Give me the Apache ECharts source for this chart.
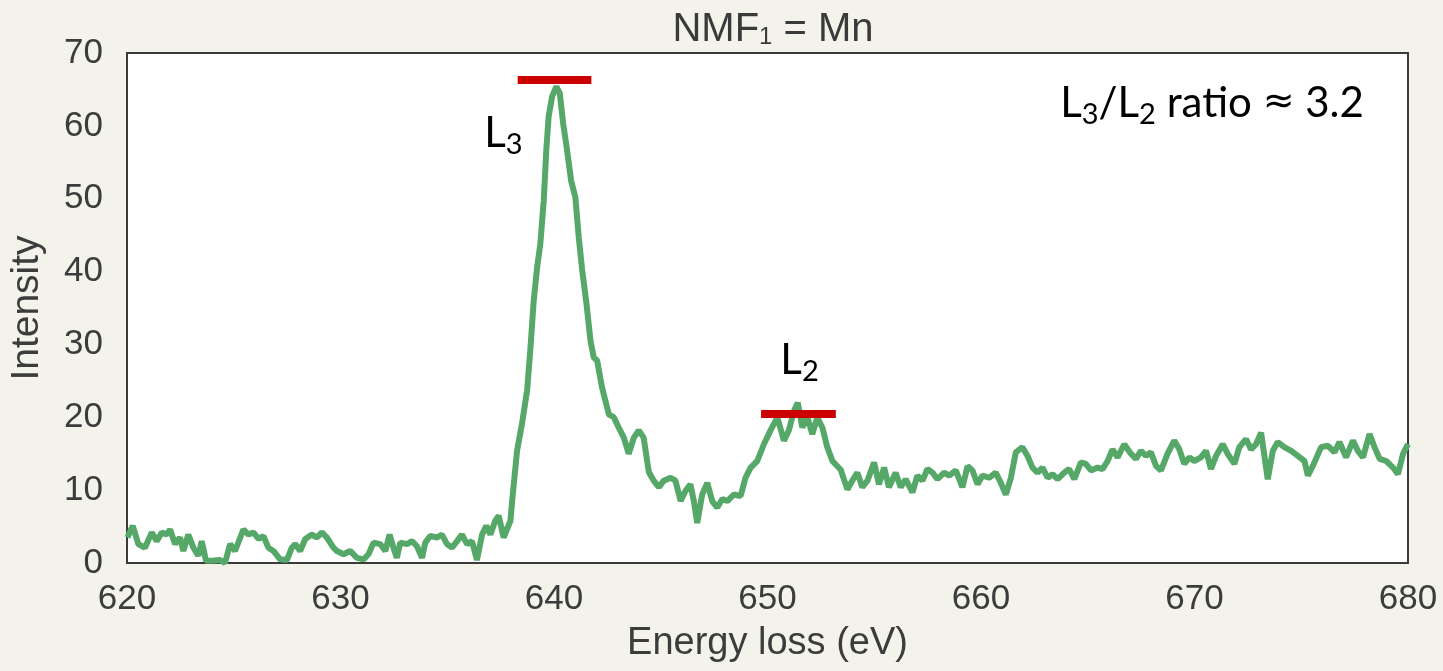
<!DOCTYPE html>
<html lang="en">

<head>
    <meta charset="UTF-8">
    <title>NMF1 = Mn</title>
    <script src="https://cdn.jsdelivr.net/npm/echarts@6.0.0/dist/echarts.min.js"></script>
    <style>
        body { margin: 0; background: #f4f3eb; }
    </style>
</head>

<body>
    <div id="main" style="height:671px; width:1443px"></div>
    <script>
        // energy loss (eV)
        var energy = [
            620.02, 620.27, 620.53, 620.84, 621.16, 621.39, 621.63, 621.86, 622.02, 622.25,
            622.48, 622.64, 622.87, 623.11, 623.34, 623.5, 623.7, 623.97, 624.36, 624.59,
            624.83, 625.06, 625.45, 625.69, 625.92, 626.16, 626.39, 626.62, 626.86, 627.17,
            627.49, 627.72, 627.88, 628.11, 628.35, 628.66, 628.89, 629.13, 629.36, 629.67,
            629.83, 630.14, 630.45, 630.77, 631.08, 631.31, 631.55, 631.86, 632.1, 632.3,
            632.48, 632.64, 632.8, 633.11, 633.35, 633.58, 633.82, 633.97, 634.2, 634.52,
            634.75, 634.99, 635.22, 635.46, 635.69, 635.93, 636.16, 636.39, 636.63, 636.83,
            637.02, 637.25, 637.41, 637.64, 637.96,
            638.04, 638.27, 638.5, 638.74, 638.89, 639.05, 639.21, 639.36, 639.52, 639.64,
            639.75, 639.91, 640.11, 640.27, 640.43, 640.61, 640.8, 641.0, 641.16, 641.32,
            641.52, 641.71, 641.86, 642.02, 642.25, 642.57, 642.8, 643.03, 643.27, 643.5,
            643.74, 643.97, 644.2,
            644.44, 644.67, 644.91, 645.14, 645.46, 645.69, 645.93, 646.16, 646.39, 646.55,
            646.71, 646.94, 647.18, 647.41, 647.65, 647.88, 648.12, 648.42, 648.74, 648.97,
            649.21, 649.52, 649.83, 650.14, 650.46, 650.77, 651.0, 651.24, 651.42, 651.63,
            651.87, 652.1, 652.33, 652.57, 652.8, 653.04,
            653.43, 653.74, 653.97, 654.21, 654.44, 654.68, 654.99, 655.22, 655.46, 655.69,
            656.0, 656.24, 656.47, 656.79, 657.02, 657.26, 657.49, 657.73, 657.96, 658.27,
            658.51, 658.82, 659.13, 659.37, 659.6, 659.84, 660.07, 660.38, 660.69, 660.93,
            661.16, 661.4, 661.63, 661.94, 662.18, 662.41, 662.65, 662.88, 663.12, 663.35,
            663.59, 663.9, 664.13, 664.37, 664.68, 664.91, 665.15, 665.46, 665.69, 665.93,
            666.16, 666.4, 666.71, 667.02,
            667.26, 667.49, 667.73, 667.96, 668.2, 668.43, 668.74, 669.05, 669.29, 669.52,
            669.76, 669.99, 670.3, 670.54, 670.77, 671.01, 671.32, 671.55, 671.87, 672.1,
            672.41, 672.65, 672.88, 673.12, 673.43, 673.67, 673.9, 674.21, 674.53, 674.84,
            675.15, 675.31, 675.54, 675.93, 676.24, 676.56, 676.79, 677.1, 677.42, 677.65,
            677.89, 678.2, 678.43, 678.67, 678.98, 679.3, 679.53, 679.77, 680.0
        ]
        var intensity = [
            3.5, 5.1, 2.6, 2.1, 4.2, 3.0, 4.2, 3.9, 4.6, 2.6,
            3.5, 1.65, 3.9, 2.1, 1.0, 3.0, 0.3, 0.3, 0.4, 0,
            2.6, 1.65, 4.6, 3.9, 4.2, 3.3, 3.7, 2.1, 1.65, 0.5,
            0.4, 2.1, 2.6, 1.65, 3.3, 3.9, 3.5, 4.2, 3.5, 2.1,
            1.65, 1.2, 1.65, 0.7, 0.5, 1.2, 2.8, 2.6, 1.65, 3.9,
            2.1, 0.7, 2.8, 2.6, 3.0, 2.3, 0.7, 2.8, 3.7, 3.5,
            3.9, 2.6, 2.1, 3.0, 3.9, 2.6, 3.0, 0.4, 3.9, 5.1,
            3.9, 5.8, 6.5, 3.5, 5.8,
            8.5, 15.4, 19.1, 23.7, 29.2, 36.0, 40.6, 43.8, 49.8, 56.7,
            61.3, 64.0, 65.4, 64.5, 60.3, 56.7, 52.5, 50.2, 44.7, 40.2,
            35.6, 30.5, 28.2, 27.8, 24.1, 20.4, 20.0, 18.6, 17.2, 15.0,
            17.2, 18.2, 17.2,
            12.5, 11.3, 10.4, 11.3, 11.7, 11.3, 8.5, 9.9, 10.8, 8.5,
            5.5, 9.4, 11.0, 8.5, 7.6, 8.8, 8.5, 9.4, 9.2, 11.7,
            13.1, 14.0, 16.3, 18.2, 20.0, 16.8, 18.2, 20.9, 22.0, 18.6,
            20.0, 17.7, 20.0, 18.6, 15.9, 14.0,
            12.8, 10.1, 11.3, 12.4, 10.4, 11.3, 13.8, 10.8, 13.1, 10.4,
            12.4, 10.4, 11.5, 9.7, 12.0, 11.3, 12.9, 12.4, 11.5, 12.4,
            12.0, 12.7, 10.4, 13.3, 12.7, 10.8, 12.0, 11.7, 12.4, 11.0,
            9.4, 11.7, 15.2, 15.9, 14.7, 13.1, 12.4, 13.1, 11.7, 12.2,
            11.5, 12.4, 12.9, 11.5, 13.8, 13.6, 12.7, 13.1, 12.9, 14.0,
            15.6, 14.5, 16.3, 15.0,
            14.3, 15.4, 14.7, 15.2, 13.3, 12.7, 15.0, 16.8, 15.6, 13.6,
            14.5, 14.0, 14.5, 15.4, 12.9, 14.7, 16.3, 15.0, 13.6, 15.9,
            17.0, 15.6, 16.3, 17.9, 11.5, 15.4, 16.6, 15.9, 15.4, 14.7,
            14.0, 12.0, 13.3, 15.9, 16.1, 15.2, 16.6, 14.5, 16.8, 15.4,
            14.5, 17.7, 15.9, 14.3, 14.0, 13.1, 12.2, 15.0, 16.3
        ]

        // red peak markers: [start eV, end eV, height]
        var l3Bar = [638.3, 641.75, 66.3]
        var l2Bar = [649.7, 653.2, 20.5]

        var points = []
        for (var i = 0; i < energy.length; i++) {
            points.push([energy[i], intensity[i]])
        }

        var tickColor = '#3c3c3c'
        var subRich = {
            l: { fontFamily: 'Lato', fontSize: 42, color: '#000' },
            s: { fontFamily: 'Lato', fontSize: 29, color: '#000', padding: [22, 0, 0, 0] },
            q: { fontFamily: 'DejaVu Sans', fontSize: 38, color: '#000' }
        }

        var myCharts = echarts.init(document.getElementById('main'))
        var option = {
            animation: false,
            backgroundColor: '#f4f3eb',
            title: {
                text: '{a|NMF}{s|1}{a| = Mn}',
                left: 768,
                textAlign: 'center',
                top: 5,
                textStyle: {
                    fontWeight: 'normal',
                    rich: {
                        a: { fontFamily: 'Liberation Sans', fontSize: 40, fontWeight: 'normal', color: '#3a3a3a' },
                        s: { fontFamily: 'Liberation Sans', fontSize: 24, fontWeight: 'normal', color: '#3a3a3a', padding: [15, 0, 0, 0] }
                    }
                }
            },
            grid: {
                left: 127,
                top: 53,
                right: 35,
                bottom: 108,
                show: true,
                backgroundColor: '#ffffff',
                borderColor: '#3a3a3a',
                borderWidth: 2
            },
            xAxis: {
                type: 'value',
                min: 620,
                max: 680,
                interval: 10,
                name: 'Energy loss (eV)',
                nameLocation: 'middle',
                nameGap: 62,
                nameTextStyle: { fontFamily: 'Liberation Sans', fontSize: 38, color: tickColor },
                axisLine: { show: false },
                axisTick: { show: false },
                splitLine: { show: false },
                axisLabel: { fontFamily: 'Liberation Sans', fontSize: 35, color: tickColor, margin: 19 }
            },
            yAxis: {
                type: 'value',
                min: 0,
                max: 70,
                interval: 10,
                name: 'Intensity',
                nameLocation: 'middle',
                nameGap: 80,
                nameTextStyle: { fontFamily: 'Liberation Sans', fontSize: 39, color: tickColor },
                axisLine: { show: false },
                axisTick: { show: false },
                splitLine: { show: false },
                axisLabel: { fontFamily: 'Liberation Sans', fontSize: 35, color: tickColor, margin: 24 }
            },
            series: [{
                type: 'line',
                data: points,
                showSymbol: false,
                lineStyle: { color: '#55a868', width: 6 },
                markLine: {
                    silent: true,
                    symbol: 'none',
                    label: { show: false },
                    lineStyle: { color: '#cc0000', width: 8, type: 'solid' },
                    data: [
                        [{ coord: [l3Bar[0], l3Bar[2]] }, { coord: [l3Bar[1], l3Bar[2]] }],
                        [{ coord: [l2Bar[0], l2Bar[2]] }, { coord: [l2Bar[1], l2Bar[2]] }]
                    ]
                },
                markPoint: {
                    silent: true,
                    symbol: 'circle',
                    symbolSize: 0,
                    label: { show: true, position: 'inside', rich: subRich },
                    data: [
                        { coord: [637.63, 59.0], label: { formatter: '{l|L}{s|3}' } },
                        { coord: [651.5, 27.8], label: { formatter: '{l|L}{s|2}' } },
                        { coord: [670.82, 63.1], label: { formatter: '{l|L}{s|3}{l|/L}{s|2}{l| ratio }{q|≈}{l| 3.2}' } }
                    ]
                }
            }]
        }
        myCharts.setOption(option)
    </script>
</body>

</html>
